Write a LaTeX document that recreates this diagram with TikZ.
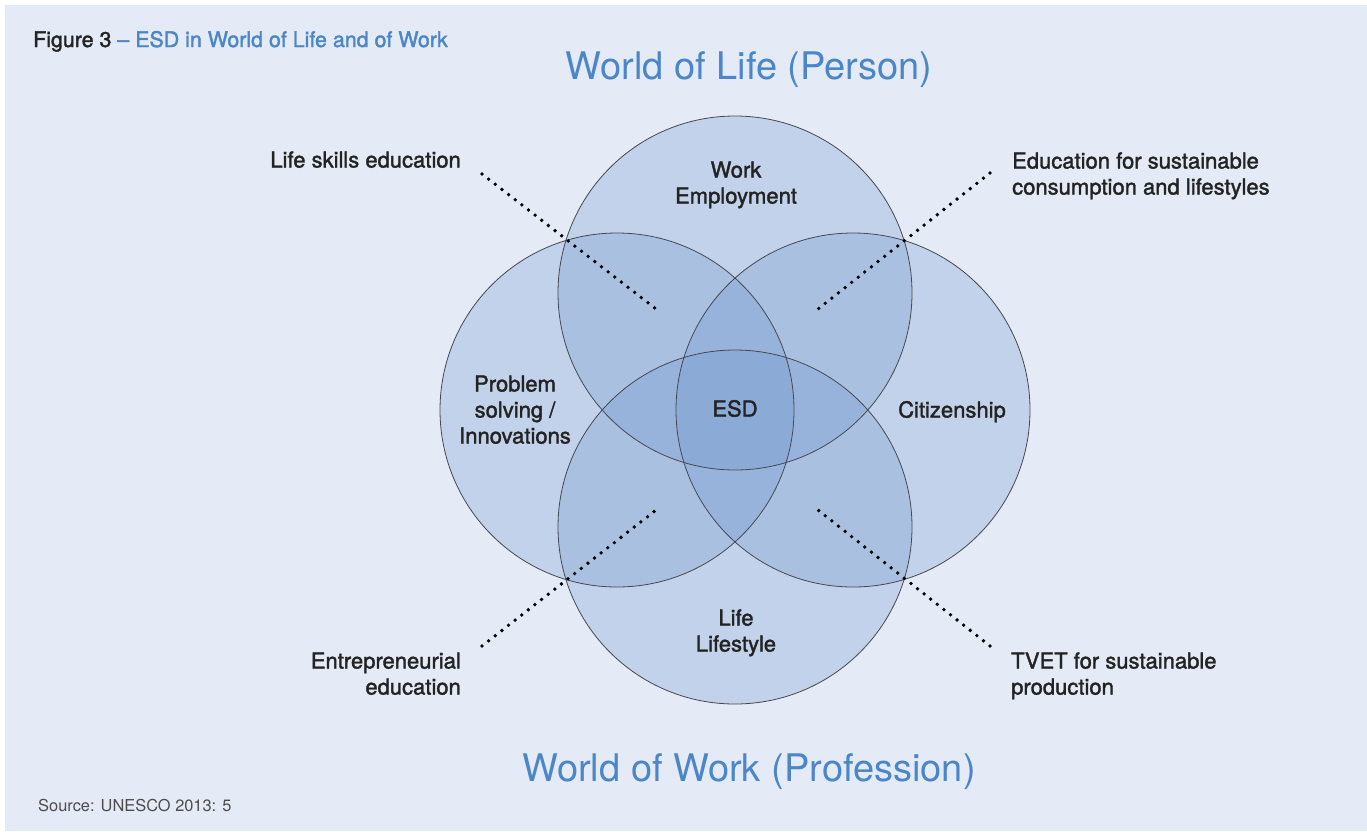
\documentclass[tikz,border=0pt]{standalone}
\usepackage{fontspec}
\setmainfont{TeX Gyre Heros}
\newfontfamily\medfont[FakeBold=1.7]{TeX Gyre Heros}
\definecolor{panelbg}{RGB}{228,235,246}
\definecolor{vennblue}{RGB}{106,146,204}
\definecolor{titleblue}{RGB}{74,134,200}
\definecolor{labelink}{RGB}{35,35,35}
\definecolor{rimgray}{RGB}{70,72,82}
\begin{document}
\begin{tikzpicture}[x=1pt,y=-1pt,
				venn/.style={circle,minimum size=354pt,inner sep=0pt},
				label/.style={inner sep=0pt,text=labelink,font=\medfont\fontsize{22}{26}\selectfont},
				world/.style={inner sep=0pt,anchor=base,text=titleblue,font=\fontsize{38}{42}\selectfont},
				pointer/.style={draw=black,line width=3.8pt,line cap=round,dash pattern=on 0pt off 8.4pt}]
\useasboundingbox (0,0) rectangle (1367,831);
\fill[white] (0,0) rectangle (1367,831);
\fill[panelbg] (5,5) rectangle (1367,831);
\node[venn] (work) at (735,293) {};
\node[venn] (problem) at (617,410) {};
\node[venn] (citizen) at (853,410) {};
\node[venn] (life) at (735,527) {};
\foreach \c in {work,problem,citizen,life}
	\fill[vennblue,fill opacity=0.27] (\c.center) circle (177pt);
\foreach \c in {work,problem,citizen,life}
	\draw[rimgray,line width=0.8pt] (\c.center) circle (177pt);
\node[label,anchor=base,align=center] (worktext) at (736,203.5) {Work\\Employment};
\node[label,anchor=base,align=center] (problemtext) at (515,443.5) {Problem\\solving /\\Innovations};
\node[label,anchor=base] (esd) at (735,416.5) {ESD};
\node[label,anchor=base] (citizentext) at (952,417.5) {Citizenship};
\node[label,anchor=base,align=center] (lifetext) at (736,651.5) {Life\\Lifestyle};
\node[label,anchor=base east,align=right] (skills) at (461,167.5) {Life skills education};
\node[label,anchor=base west,align=left] (consume) at (1012,194.5) {Education for sustainable\\consumption and lifestyles};
\node[label,anchor=base east,align=right] (entre) at (461,694.5) {Entrepreneurial\\education};
\node[label,anchor=base west,align=left] (tvet) at (1011,694.5) {TVET for sustainable\\production};
\coordinate (skillsA) at (482,174);
\coordinate (skillsB) at (656,309);
\coordinate (consumeA) at (990,173);
\coordinate (consumeB) at (818,309);
\coordinate (entreA) at (482,646);
\coordinate (entreB) at (656,510);
\coordinate (tvetA) at (990,646);
\coordinate (tvetB) at (818,510);
\draw[pointer] (skillsA) -- (skillsB);
\draw[pointer] (consumeA) -- (consumeB);
\draw[pointer] (entreA) -- (entreB);
\draw[pointer] (tvetA) -- (tvetB);
\node[world] (person) at (749,79) {World of Life (Person)};
\node[world] (profession) at (749,781) {World of Work (Profession)};
\node[inner sep=0pt,anchor=base west,font=\medfont\fontsize{21.4}{24}\selectfont] (caption) at (33,47) {\textcolor{labelink}{Figure 3} \textcolor{titleblue}{– ESD in World of Life and of Work}};
\node[inner sep=0pt,anchor=base west,text=black!70,font=\fontsize{16.4}{20}\selectfont] (source) at (38,811) {Source: UNESCO 2013: 5};
\end{tikzpicture}
\end{document}
